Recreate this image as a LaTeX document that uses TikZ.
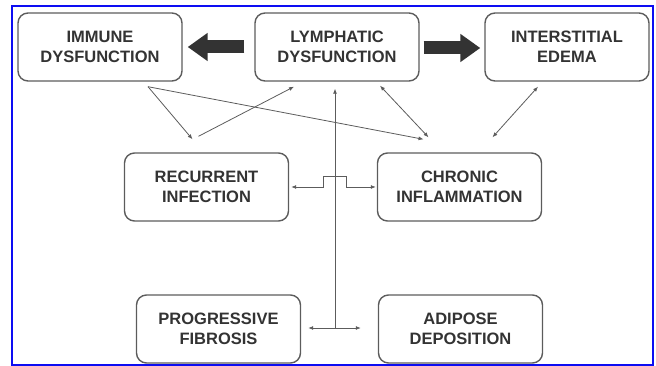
\documentclass[tikz,border=0pt]{standalone}
\usepackage{fontspec}
\setmainfont{Liberation Sans}
\usetikzlibrary{arrows.meta, calc, positioning}
\definecolor{figblue}{rgb}{0.05, 0.05, 0.95}
\definecolor{figline}{rgb}{0.36, 0.36, 0.36}
\definecolor{figtext}{rgb}{0.2, 0.2, 0.2}
\definecolor{figarrow}{rgb}{0.2, 0.2, 0.2}

\begin{document}
\begin{tikzpicture}[x=1pt, y=-1pt,
        every node/.style={font=\fontsize{16.5}{20}\selectfont\bfseries},
        box/.style={draw=figline, line width=1.4pt, rounded corners=10pt, text=figtext,
            minimum width=164pt, minimum height=68pt, inner sep=0pt, align=center},
        link/.style={draw=figline, line width=0.8pt, {Latex[length=5pt,width=4pt]}-{Latex[length=5pt,width=4pt]}},
        bigarrow/.style={draw=figarrow, line width=13pt, -{Triangle[length=20pt,width=27pt]}}]
        \useasboundingbox (0,0) rectangle (656,366);
        \draw[figblue, line width=2pt] (12,6) rectangle (653,365);

        \foreach \n/\x/\y/\t in {imm/100/47/{IMMUNE\\DYSFUNCTION}, lym/337/47/{LYMPHATIC\\DYSFUNCTION},
                ede/567/47/{INTERSTITIAL\\EDEMA}, rec/206.5/187/{RECURRENT\\INFECTION},
                chr/459.5/187/{CHRONIC\\INFLAMMATION}, fib/218.5/329/{PROGRESSIVE\\FIBROSIS},
                adi/460.5/329/{ADIPOSE\\DEPOSITION}}{
            \node[box] (\n) at (\x,\y) {\t};
        }

        \draw[bigarrow] ($(lym.west)+(-10,0)$) -- ($(imm.east)+(5,0)$);
        \draw[bigarrow] ($(lym.east)+(4,1)$) -- ($(ede.west)+(-4,1)$);

        \coordinate (split) at ($(imm.south)+(48,5)$);
        \draw[link, -{Latex[length=5pt,width=4pt]}] (split) -- ($(rec.north)+(-14,-13)$);
        \draw[link, -{Latex[length=5pt,width=4pt]}] (split) -- ($(chr.north)+(-36,-13)$);
        \draw[link, -{Latex[length=5pt,width=4pt]}] ($(rec.north)+(-8,-16)$) -- ($(lym.south)+(-43,5)$);
        \draw[link] ($(lym.south)+(43,4)$) -- ($(chr.north)+(-31,-15)$);
        \draw[link] ($(ede.south)+(-29,5)$) -- ($(chr.north)+(33,-15)$);

        \coordinate (hub) at ($(lym.south |- fib.east)+(-2,-1)$);
        \draw[link, -{Latex[length=5pt,width=4pt]}] (hub) -- ($(lym.south)+(-2,7)$);
        \draw[link] ($(fib.east)+(7,-1)$) -- ($(adi.west)+(-17,-1)$);
        \draw[link] ($(chr.west)+(-1,0)$) -- ($(hub |- chr.west)+(11,0)$) -- ++(0,-11) -- ++(-23,0) -- ++(0,11) -- ($(rec.east)+(2,0)$);
    \end{tikzpicture}
\end{document}
